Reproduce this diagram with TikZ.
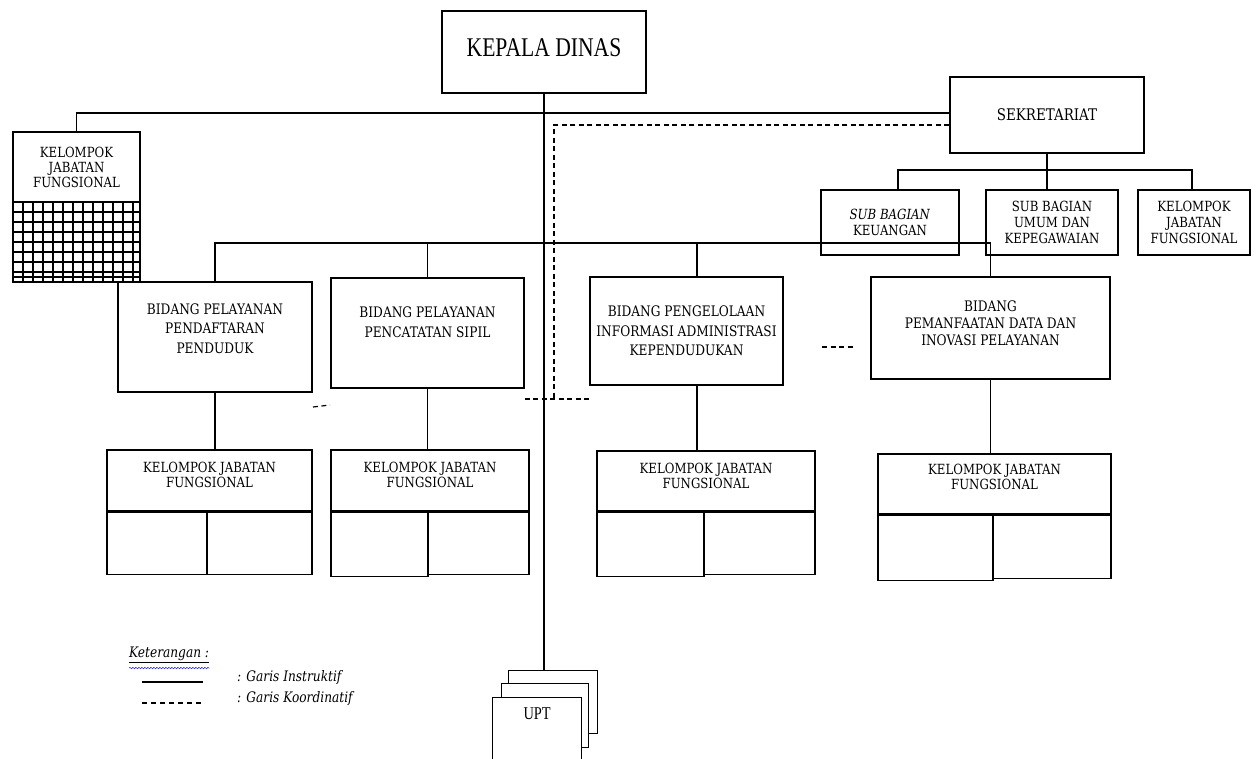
\documentclass[tikz,border=0pt]{standalone}
\usepackage{fontspec}
\newfontfamily\slab[FakeStretch=0.84]{DejaVu Serif}
\newfontfamily\headfont[FakeStretch=0.8]{Liberation Serif}
\usetikzlibrary{decorations.pathmorphing}

\begin{document}
\begin{tikzpicture}[x=1pt, y=-1pt,
    box/.style={rectangle, draw, line width=1.2pt, inner sep=0pt, align=center, font=\slab\fontsize{14}{15}\selectfont},
    bidang/.style={box, font=\slab\fontsize{14.5}{19.5}\selectfont},
    subbag/.style={box, minimum height=65pt, font=\slab\fontsize{14}{16}\selectfont},
    jafung/.style={box, font=\slab\fontsize{14}{15}\selectfont},
    cell/.style={rectangle, draw, line width=1.2pt, inner sep=0pt},
    line/.style={line width=1.2pt},
    koord/.style={line width=1.2pt, dash pattern=on 5pt off 3.5pt},
    legend/.style={inner sep=0pt, anchor=west, font=\slab\itshape\fontsize{14.5}{16}\selectfont}
]
\useasboundingbox (0,0) rectangle (1256,758);

    % Pimpinan
    \node[box, minimum width=204pt, minimum height=82pt, text depth=8pt, font=\headfont\fontsize{27}{30}\selectfont] (kadis) at (544,52) {KEPALA DINAS};
    \node[box, minimum width=194pt, minimum height=76pt, font=\slab\fontsize{16}{18}\selectfont] (sekre) at (1047,115) {SEKRETARIAT};

    % Kelompok jabatan fungsional (kiri)
    \node[jafung, minimum width=127pt, minimum height=70pt] (jfkiri) at (76.5,167) {KELOMPOK\\JABATAN\\FUNGSIONAL};
    \node[cell, minimum width=127pt, minimum height=80pt] (jfgrid) at (76.5,242) {};
    \foreach \gx in {23,33,...,133}
        \draw[line] (\gx,202) -- (\gx,282);
    \foreach \gy in {212,222,...,272,277}
        \draw[line] (13,\gy) -- (140,\gy);

    % Sekretariat
    \node[subbag, minimum width=138pt] (sbkeu) at (890,222.5) {\textit{SUB BAGIAN}\\KEUANGAN};
    \node[subbag, minimum width=132pt] (sbumum) at (1052,222.5) {SUB BAGIAN\\UMUM DAN\\KEPEGAWAIAN};
    \node[subbag, minimum width=112pt] (jfsek) at (1194,222.5) {KELOMPOK\\JABATAN\\FUNGSIONAL};

    % Bidang
    \node[bidang, minimum width=194pt, minimum height=110pt, text depth=17pt] (bpdp) at (215,337) {BIDANG PELAYANAN\\PENDAFTARAN\\PENDUDUK};
    \node[bidang, minimum width=193pt, minimum height=110pt, text depth=22pt] (bpcs) at (427.5,333) {BIDANG PELAYANAN\\PENCATATAN SIPIL};
    \node[bidang, minimum width=193pt, minimum height=108pt] (bpiak) at (686.5,331) {BIDANG PENGELOLAAN\\INFORMASI ADMINISTRASI\\KEPENDUDUKAN};
    \node[bidang, minimum width=239pt, minimum height=102pt, text depth=10pt, font=\slab\fontsize{14.5}{17}\selectfont] (bpdip) at (990.5,328) {BIDANG\\PEMANFAATAN DATA DAN\\INOVASI PELAYANAN};

    % Kelompok jabatan fungsional (bidang)
    \node[jafung, minimum width=205pt, minimum height=61pt, text depth=12pt] (jfa) at (209.5,480.5) {KELOMPOK JABATAN\\FUNGSIONAL};
    \node[cell, minimum width=100pt, minimum height=62pt, anchor=north west] (jfa1) at (jfa.south west) {};
    \node[cell, minimum width=105pt, minimum height=62pt, anchor=north east] (jfa2) at (jfa.south east) {};

    \node[jafung, minimum width=198pt, minimum height=61pt, text depth=11pt] (jfb) at (430,480.5) {KELOMPOK JABATAN\\FUNGSIONAL};
    \node[cell, minimum width=97pt, minimum height=64pt, anchor=north west] (jfb1) at (jfb.south west) {};
    \node[cell, minimum width=101pt, minimum height=62pt, anchor=north east] (jfb2) at (jfb.south east) {};

    \node[jafung, minimum width=218pt, minimum height=60pt, text depth=10pt] (jfc) at (706,481) {KELOMPOK JABATAN\\FUNGSIONAL};
    \node[cell, minimum width=107pt, minimum height=64pt, anchor=north west] (jfc1) at (jfc.south west) {};
    \node[cell, minimum width=111pt, minimum height=62pt, anchor=north east] (jfc2) at (jfc.south east) {};

    \node[jafung, minimum width=233pt, minimum height=60pt, text depth=14pt] (jfd) at (994.5,484) {KELOMPOK JABATAN\\FUNGSIONAL};
    \node[cell, minimum width=115pt, minimum height=65pt, anchor=north west] (jfd1) at (jfd.south west) {};
    \node[cell, minimum width=118pt, minimum height=63pt, anchor=north east] (jfd2) at (jfd.south east) {};

    % UPT
    \node[cell, fill=white, minimum width=89pt, minimum height=63pt, anchor=north west] (upt3) at (508,670) {};
    \node[cell, fill=white, minimum width=87pt, minimum height=64pt, anchor=north west] (upt2) at (501,683) {};
    \node[box, fill=white, minimum width=89pt, inner ysep=10pt, text depth=50pt, anchor=north west, font=\headfont\fontsize{18}{20}\selectfont] (upt) at (492,697) {UPT};

    % Garis instruktif
    \coordinate (bus) at (544,243);
    \coordinate (sbus) at (1047,170);
    \draw[line] (kadis.south) -- (kadis.south |- upt3.north);
    \draw[line] ([yshift=2pt]sekre.west) -| (jfkiri.north);
    \draw[line] (bpdp.north) |- (bus) -| (bpdip.north);
    \draw[line] (bpcs.north) -- (bpcs.north |- bus);
    \draw[line] ([xshift=10.5pt]bpiak.north) -- ([xshift=10.5pt]bpiak.north |- bus);
    \draw[line] (sekre.south) -- (sekre.south |- sbumum.north);
    \draw[line] ([xshift=8pt]sbkeu.north) |- (sbus) -| ([xshift=-2pt]jfsek.north);
    \draw[line] (bpdp.south) -- (bpdp.south |- jfa.north);
    \draw[line] (bpcs.south) -- (bpcs.south |- jfb.north);
    \draw[line] ([xshift=10.5pt]bpiak.south) -- ([xshift=10.5pt]bpiak.south |- jfc.north);
    \draw[line] (bpdip.south) -- (bpdip.south |- jfd.north);

    % Garis koordinatif
    \coordinate (kdsudut) at (554,399);
    \coordinate (kdkiri) at (822,347);
    \coordinate (kdkanan) at (855,347);
    \coordinate (sisa1) at (313,407);
    \coordinate (sisa2) at (330,405);
    \draw[koord] ([yshift=-10pt]sekre.west) -| (kdsudut);
    \draw[koord] (bpcs.east |- kdsudut) -- (bpiak.west |- kdsudut);
    \draw[koord] (kdkiri) -- (kdkanan);
    \draw[koord] (sisa1) -- (sisa2);

    % Keterangan
    \node[legend] (ket) at (129,655) {\underline{Keterangan :}};
    \draw[blue, decorate, decoration={snake, amplitude=0.8pt, segment length=3pt}] ([yshift=-5pt]ket.south west) -- ([yshift=-5pt]ket.south east);
    \coordinate (lg1a) at (142,682);
    \coordinate (lg1b) at (203,682);
    \coordinate (lg2a) at (142,703);
    \coordinate (lg2b) at (203,703);
    \draw[line] (lg1a) -- (lg1b);
    \draw[line, dash pattern=on 5pt off 4pt] (lg2a) -- (lg2b);
    \node[legend] (ketins) at (237,677) {: Garis Instruktif};
    \node[legend] (ketkoor) at (237,698) {: Garis Koordinatif};

\end{tikzpicture}
\end{document}
